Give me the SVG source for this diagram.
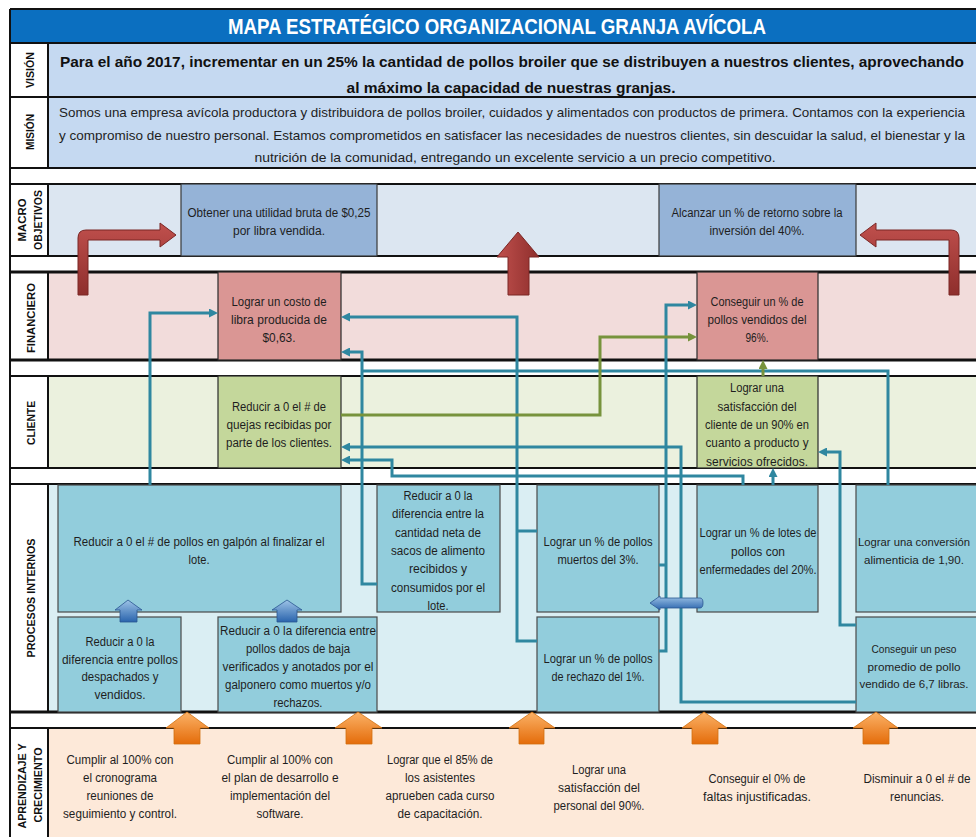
<svg xmlns="http://www.w3.org/2000/svg" width="976" height="837" viewBox="0 0 976 837">
<style>
.t{font-family:"Liberation Sans",Arial,sans-serif;font-size:12.5px;fill:#1e1e1e;text-anchor:middle}
.s{font-size:11px}
.lab{font-family:"Liberation Sans",Arial,sans-serif;font-size:11px;font-weight:bold;fill:#111;text-anchor:middle}
.vis{font-family:"Liberation Sans Narrow","Liberation Sans",Arial,sans-serif;font-size:15.5px;font-weight:bold;fill:#111;text-anchor:middle}
.mis{font-family:"Liberation Sans Narrow","Liberation Sans",Arial,sans-serif;font-size:13.5px;fill:#1e1e1e;text-anchor:middle}
.ttl{font-family:"Liberation Sans Narrow","Liberation Sans",Arial,sans-serif;font-size:22px;font-weight:bold;fill:#fff;text-anchor:middle}
.bl{stroke:#111;stroke-width:2}
.mac{fill:#95B3D7;stroke:#3a3a3a;stroke-width:1.2}
.fin{fill:#DA9694;stroke:#2a2a2a;stroke-width:1.2}
.cli{fill:#C4D79B;stroke:#2a2a2a;stroke-width:1.2}
.pro{fill:#92CDDC;stroke:#4a4a4a;stroke-width:1.2}
.c{fill:none;stroke:#2F87A0;stroke-width:3}
.g{fill:none;stroke:#77933C;stroke-width:3}
</style>
<defs>
<marker id="at" viewBox="0 0 9 9" refX="3" refY="4.5" markerWidth="9" markerHeight="9" markerUnits="userSpaceOnUse" orient="auto"><path d="M0,0 L9,4.5 L0,9 Z" fill="#2F87A0"/></marker>
<marker id="ag" viewBox="0 0 9 9" refX="3" refY="4.5" markerWidth="9" markerHeight="9" markerUnits="userSpaceOnUse" orient="auto"><path d="M0,0 L9,4.5 L0,9 Z" fill="#77933C"/></marker>
<linearGradient id="red" x1="0" y1="0" x2="0" y2="1"><stop offset="0" stop-color="#C0504D"/><stop offset="1" stop-color="#8E2E2C"/></linearGradient>
<linearGradient id="redh" x1="0" y1="0" x2="1" y2="0"><stop offset="0" stop-color="#C0504D"/><stop offset="1" stop-color="#8E2E2C"/></linearGradient>
<linearGradient id="org" x1="0" y1="0" x2="0" y2="1"><stop offset="0" stop-color="#FBB267"/><stop offset="1" stop-color="#E46C0A"/></linearGradient>
<linearGradient id="blu" x1="0" y1="0" x2="0" y2="1"><stop offset="0" stop-color="#9DC3E6"/><stop offset="1" stop-color="#2A64AD"/></linearGradient>
</defs>

<!-- backgrounds -->
<rect x="10" y="9" width="966" height="828" fill="#fff"/>
<rect x="10" y="9" width="966" height="34" fill="#0B6FC0"/>
<rect x="48" y="43" width="928" height="125" fill="#C5D9F1"/>
<rect x="48" y="184" width="928" height="72" fill="#DCE6F1"/>
<rect x="48" y="272" width="928" height="88" fill="#F2DCDB"/>
<rect x="48" y="376" width="928" height="92" fill="#EBF1DE"/>
<rect x="48" y="484" width="928" height="228" fill="#DAEEF3"/>
<rect x="48" y="728" width="928" height="109" fill="#FDE9D9"/>

<!-- grid lines -->
<g class="bl">
<line x1="10" y1="9" x2="976" y2="9"/>
<line x1="10" y1="43" x2="976" y2="43"/>
<line x1="10" y1="97" x2="976" y2="97"/>
<line x1="10" y1="168" x2="976" y2="168"/>
<line x1="10" y1="184" x2="976" y2="184"/>
<line x1="10" y1="256" x2="976" y2="256"/>
<line x1="10" y1="272" x2="976" y2="272" stroke-width="3"/>
<line x1="10" y1="360" x2="976" y2="360" stroke-width="3"/>
<line x1="10" y1="376" x2="976" y2="376"/>
<line x1="10" y1="468" x2="976" y2="468"/>
<line x1="10" y1="484" x2="976" y2="484"/>
<line x1="10" y1="712" x2="976" y2="712" stroke-width="3"/>
<line x1="10" y1="728" x2="976" y2="728"/>
<line x1="10" y1="9" x2="10" y2="837"/>
<line x1="48" y1="43" x2="48" y2="168"/>
<line x1="48" y1="184" x2="48" y2="256"/>
<line x1="48" y1="272" x2="48" y2="360"/>
<line x1="48" y1="376" x2="48" y2="468"/>
<line x1="48" y1="484" x2="48" y2="712"/>
<line x1="48" y1="728" x2="48" y2="837"/>
</g>

<!-- title / vision / mision -->
<text class="ttl" x="497" y="34" textLength="538" lengthAdjust="spacingAndGlyphs">MAPA ESTRATÉGICO ORGANIZACIONAL GRANJA AVÍCOLA</text>
<text class="vis" x="512" y="67" textLength="904" lengthAdjust="spacingAndGlyphs">Para el año 2017, incrementar en un 25% la cantidad de pollos broiler que se distribuyen a nuestros clientes, aprovechando</text>
<text class="vis" x="511" y="93" textLength="329" lengthAdjust="spacingAndGlyphs">al máximo la capacidad de nuestras granjas.</text>
<text class="mis" x="512" y="117" textLength="906" lengthAdjust="spacingAndGlyphs">Somos una empresa avícola productora y distribuidora de pollos broiler, cuidados y alimentados con productos de primera. Contamos con la experiencia</text>
<text class="mis" x="512" y="140" textLength="906" lengthAdjust="spacingAndGlyphs">y compromiso de nuestro personal. Estamos comprometidos en satisfacer las necesidades de nuestros clientes, sin descuidar la salud, el bienestar y la</text>
<text class="mis" x="515" y="162" textLength="521" lengthAdjust="spacingAndGlyphs">nutrición de la comunidad, entregando un excelente servicio a un precio competitivo.</text>

<!-- row labels -->
<g id="labels">
<text class="lab" transform="translate(34,70) rotate(-90)" textLength="36" lengthAdjust="spacingAndGlyphs">VISIÓN</text>
<text class="lab" transform="translate(34,132) rotate(-90)" textLength="36" lengthAdjust="spacingAndGlyphs">MISIÓN</text>
<text class="lab" transform="translate(26,220) rotate(-90)" textLength="43" lengthAdjust="spacingAndGlyphs">MACRO</text>
<text class="lab" transform="translate(42,220) rotate(-90)" textLength="60" lengthAdjust="spacingAndGlyphs">OBJETIVOS</text>
<text class="lab" transform="translate(35,318) rotate(-90)" textLength="70" lengthAdjust="spacingAndGlyphs">FINANCIERO</text>
<text class="lab" transform="translate(35,423) rotate(-90)" textLength="44" lengthAdjust="spacingAndGlyphs">CLIENTE</text>
<text class="lab" transform="translate(35,598) rotate(-90)" textLength="119" lengthAdjust="spacingAndGlyphs">PROCESOS INTERNOS</text>
<text class="lab" transform="translate(26,786) rotate(-90)" textLength="85" lengthAdjust="spacingAndGlyphs">APRENDIZAJE Y</text>
<text class="lab" transform="translate(42,785) rotate(-90)" textLength="75" lengthAdjust="spacingAndGlyphs">CRECIMIENTO</text>
</g>

<!-- macro objetivos -->
<g id="m1"><rect class="mac" x="181" y="184" width="196" height="72"/>
<text class="t" x="279" y="217" textLength="183" lengthAdjust="spacingAndGlyphs">Obtener una utilidad bruta de $0,25</text>
<text class="t" x="279" y="235" textLength="92" lengthAdjust="spacingAndGlyphs">por libra vendida.</text></g>
<g id="m2"><rect class="mac" x="659" y="184" width="197" height="72"/>
<text class="t" x="757" y="217" textLength="171" lengthAdjust="spacingAndGlyphs">Alcanzar un % de retorno sobre la</text>
<text class="t" x="757" y="235" textLength="95" lengthAdjust="spacingAndGlyphs">inversión del 40%.</text></g>

<!-- financiero -->
<g id="f1"><rect class="fin" x="218" y="272" width="123" height="88"/>
<text class="t" x="279" y="306" textLength="95" lengthAdjust="spacingAndGlyphs">Lograr un costo de</text>
<text class="t" x="279" y="324" textLength="96" lengthAdjust="spacingAndGlyphs">libra producida de</text>
<text class="t" x="279" y="342" textLength="33" lengthAdjust="spacingAndGlyphs">$0,63.</text></g>
<g id="f2"><rect class="fin" x="697" y="272" width="121" height="88"/>
<text class="t" x="757" y="306" textLength="93" lengthAdjust="spacingAndGlyphs">Conseguir un % de</text>
<text class="t" x="757" y="324" textLength="99" lengthAdjust="spacingAndGlyphs">pollos vendidos del</text>
<text class="t" x="757" y="342" textLength="23" lengthAdjust="spacingAndGlyphs">96%.</text></g>

<!-- cliente -->
<g id="c1"><rect class="cli" x="218" y="376" width="123" height="92"/>
<text class="t" x="279" y="411" textLength="94" lengthAdjust="spacingAndGlyphs">Reducir a 0 el # de</text>
<text class="t" x="279" y="429" textLength="105" lengthAdjust="spacingAndGlyphs">quejas recibidas por</text>
<text class="t" x="279" y="447" textLength="106" lengthAdjust="spacingAndGlyphs">parte de los clientes.</text></g>
<g id="c2"><rect class="cli" x="697" y="376" width="121" height="92"/>
<text class="t" x="757" y="392" textLength="54" lengthAdjust="spacingAndGlyphs">Lograr una</text>
<text class="t" x="757" y="411" textLength="79" lengthAdjust="spacingAndGlyphs">satisfacción del</text>
<text class="t" x="757" y="429" textLength="104" lengthAdjust="spacingAndGlyphs">cliente de un 90% en</text>
<text class="t" x="757" y="447" textLength="103" lengthAdjust="spacingAndGlyphs">cuanto a producto y</text>
<text class="t" x="757" y="466" textLength="102" lengthAdjust="spacingAndGlyphs">servicios ofrecidos.</text></g>

<!-- procesos internos -->
<g id="p1"><rect class="pro" x="58" y="485" width="283" height="127"/>
<text class="t" x="199" y="546" textLength="251" lengthAdjust="spacingAndGlyphs">Reducir a 0 el # de pollos en galpón al finalizar el</text>
<text class="t" x="199" y="564" textLength="21" lengthAdjust="spacingAndGlyphs">lote.</text></g>
<g id="p2"><rect class="pro" x="377" y="485" width="123" height="127"/>
<text class="t" x="438" y="500" textLength="69" lengthAdjust="spacingAndGlyphs">Reducir a 0 la</text>
<text class="t" x="438" y="518" textLength="92" lengthAdjust="spacingAndGlyphs">diferencia entre la</text>
<text class="t" x="438" y="537" textLength="86" lengthAdjust="spacingAndGlyphs">cantidad neta de</text>
<text class="t" x="438" y="555" textLength="94" lengthAdjust="spacingAndGlyphs">sacos de alimento</text>
<text class="t" x="438" y="573" textLength="58" lengthAdjust="spacingAndGlyphs">recibidos y</text>
<text class="t" x="438" y="592" textLength="94" lengthAdjust="spacingAndGlyphs">consumidos por el</text>
<text class="t" x="438" y="610" textLength="21" lengthAdjust="spacingAndGlyphs">lote.</text></g>
<g id="p3"><rect class="pro" x="58" y="617" width="123" height="95"/>
<text class="t" x="120" y="646" textLength="69" lengthAdjust="spacingAndGlyphs">Reducir a 0 la</text>
<text class="t" x="120" y="664" textLength="116" lengthAdjust="spacingAndGlyphs">diferencia entre pollos</text>
<text class="t" x="120" y="681" textLength="77" lengthAdjust="spacingAndGlyphs">despachados y</text>
<text class="t" x="120" y="699" textLength="51" lengthAdjust="spacingAndGlyphs">vendidos.</text></g>
<g id="p4"><rect class="pro" x="218" y="617" width="159" height="95"/>
<text class="t" x="298" y="635" textLength="156" lengthAdjust="spacingAndGlyphs">Reducir a 0 la diferencia entre</text>
<text class="t" x="298" y="653" textLength="104" lengthAdjust="spacingAndGlyphs">pollos dados de baja</text>
<text class="t" x="298" y="671" textLength="151" lengthAdjust="spacingAndGlyphs">verificados y anotados por el</text>
<text class="t" x="298" y="689" textLength="146" lengthAdjust="spacingAndGlyphs">galponero como muertos y/o</text>
<text class="t" x="298" y="707" textLength="49" lengthAdjust="spacingAndGlyphs">rechazos.</text></g>
<g id="p5"><rect class="pro" x="537" y="485" width="122" height="127"/>
<text class="t" x="598" y="546" textLength="109" lengthAdjust="spacingAndGlyphs">Lograr un % de pollos</text>
<text class="t" x="598" y="564" textLength="81" lengthAdjust="spacingAndGlyphs">muertos del 3%.</text></g>
<g id="p6"><rect class="pro" x="537" y="617" width="122" height="95"/>
<text class="t" x="598" y="663" textLength="109" lengthAdjust="spacingAndGlyphs">Lograr un % de pollos</text>
<text class="t" x="598" y="681" textLength="93" lengthAdjust="spacingAndGlyphs">de rechazo del 1%.</text></g>
<g id="p7"><rect class="pro" x="697" y="485" width="121" height="127"/>
<text class="t" x="758" y="537" textLength="117" lengthAdjust="spacingAndGlyphs">Lograr un % de lotes de</text>
<text class="t" x="758" y="556" textLength="54" lengthAdjust="spacingAndGlyphs">pollos con</text>
<text class="t" x="758" y="574" textLength="117" lengthAdjust="spacingAndGlyphs">enfermedades del 20%.</text></g>
<g id="p8"><rect class="pro" x="856" y="485" width="125" height="127"/>
<text class="t s" x="914" y="546" textLength="112" lengthAdjust="spacingAndGlyphs">Lograr una conversión</text>
<text class="t s" x="914" y="564" textLength="100" lengthAdjust="spacingAndGlyphs">alimenticia de 1,90.</text></g>
<g id="p9"><rect class="pro" x="856" y="617" width="125" height="95"/>
<text class="t s" x="914" y="653" textLength="85" lengthAdjust="spacingAndGlyphs">Conseguir un peso</text>
<text class="t s" x="914" y="671" textLength="93" lengthAdjust="spacingAndGlyphs">promedio de pollo</text>
<text class="t s" x="914" y="688" textLength="109" lengthAdjust="spacingAndGlyphs">vendido de 6,7 libras.</text></g>

<!-- aprendizaje y crecimiento -->
<g id="a1">
<text class="t" x="120" y="764" textLength="107" lengthAdjust="spacingAndGlyphs">Cumplir al 100% con</text>
<text class="t" x="120" y="782" textLength="74" lengthAdjust="spacingAndGlyphs">el cronograma</text>
<text class="t" x="120" y="800" textLength="67" lengthAdjust="spacingAndGlyphs">reuniones de</text>
<text class="t" x="120" y="818" textLength="114" lengthAdjust="spacingAndGlyphs">seguimiento y control.</text></g>
<g id="a2">
<text class="t" x="280" y="764" textLength="106" lengthAdjust="spacingAndGlyphs">Cumplir al 100% con</text>
<text class="t" x="280" y="782" textLength="117" lengthAdjust="spacingAndGlyphs">el plan de desarrollo e</text>
<text class="t" x="280" y="800" textLength="100" lengthAdjust="spacingAndGlyphs">implementación del</text>
<text class="t" x="280" y="818" textLength="47" lengthAdjust="spacingAndGlyphs">software.</text></g>
<g id="a3">
<text class="t" x="440" y="764" textLength="106" lengthAdjust="spacingAndGlyphs">Lograr que el 85% de</text>
<text class="t" x="440" y="782" textLength="70" lengthAdjust="spacingAndGlyphs">los asistentes</text>
<text class="t" x="440" y="800" textLength="109" lengthAdjust="spacingAndGlyphs">aprueben cada curso</text>
<text class="t" x="440" y="818" textLength="85" lengthAdjust="spacingAndGlyphs">de capacitación.</text></g>
<g id="a4">
<text class="t" x="599" y="774" textLength="54" lengthAdjust="spacingAndGlyphs">Lograr una</text>
<text class="t" x="599" y="792" textLength="82" lengthAdjust="spacingAndGlyphs">satisfacción del</text>
<text class="t" x="599" y="810" textLength="91" lengthAdjust="spacingAndGlyphs">personal del 90%.</text></g>
<g id="a5">
<text class="t" x="757" y="783" textLength="97" lengthAdjust="spacingAndGlyphs">Conseguir el 0% de</text>
<text class="t" x="757" y="801" textLength="108" lengthAdjust="spacingAndGlyphs">faltas injustificadas.</text></g>
<g id="a6">
<text class="t" x="917" y="783" textLength="107" lengthAdjust="spacingAndGlyphs">Disminuir a 0 el # de</text>
<text class="t" x="917" y="801" textLength="54" lengthAdjust="spacingAndGlyphs">renuncias.</text></g>

<!-- connectors -->
<g id="connectors">
<path class="c" d="M150,485 V313 H212" marker-end="url(#at)"/>
<path class="c" d="M377,584 H362 V352 H347" marker-end="url(#at)"/>
<path class="c" d="M888,485 V371 H362"/>
<path class="c" d="M537,641 H517 V317 H347" marker-end="url(#at)"/>
<path class="c" d="M537,531 H517"/>
<path class="c" d="M659,651 H666 V305 H691" marker-end="url(#at)"/>
<path class="c" d="M659,565 H666"/>
<path class="c" d="M856,702 H681 V447 H347" marker-end="url(#at)"/>
<path class="c" d="M743,485 V476 H392 V460 H347" marker-end="url(#at)"/>
<path class="c" d="M856,625 H840 V452 H824" marker-end="url(#at)"/>
<path class="c" d="M773,485 V474" marker-end="url(#at)"/>
<path class="g" d="M341,415 H600 V337 H691" marker-end="url(#ag)"/>
<path class="g" d="M763,376 V366" marker-end="url(#ag)"/>
</g>

<!-- block arrows -->
<g id="block-arrows">
<path d="M78,295 V238 Q78,230 86,230 H160 V223 L176,235 L160,247 V240 H88 V295 Z" fill="url(#red)" stroke="#7A2624" stroke-width="1"/>
<path d="M959,295 V238 Q959,230 951,230 H876 V223 L860,235 L876,247 V240 H949 V295 Z" fill="url(#red)" stroke="#7A2624" stroke-width="1"/>
<path d="M508,295 V257 H497 L518,232 L539,257 H529 V295 Z" fill="url(#redh)" stroke="#7A2624" stroke-width="1"/>
<path d="M128,600 L142,610 H137 V622 H120 V610 H115 Z" fill="url(#blu)" stroke="#2A5590" stroke-width="0.8"/>
<path d="M287,600 L302,610 H297 V622 H277 V610 H272 Z" fill="url(#blu)" stroke="#2A5590" stroke-width="0.8"/>
<path d="M650,603 L660,596 V598 H700 Q703,598 703,603 Q703,608 700,608 H660 V610 Z" fill="url(#blu)" stroke="#2A5590" stroke-width="0.8"/>
<path d="M187,712 L209,728 H200 V744 H174 V728 H166 Z" fill="url(#org)" stroke="#D0700F" stroke-width="0.8"/>
<path d="M358,712 L382,728 H372 V744 H346 V728 H335 Z" fill="url(#org)" stroke="#D0700F" stroke-width="0.8"/>
<path d="M532,712 L555,728 H544 V744 H519 V728 H509 Z" fill="url(#org)" stroke="#D0700F" stroke-width="0.8"/>
<path d="M704,712 L727,728 H718 V744 H692 V728 H682 Z" fill="url(#org)" stroke="#D0700F" stroke-width="0.8"/>
<path d="M876,712 L898,728 H889 V744 H863 V728 H853 Z" fill="url(#org)" stroke="#D0700F" stroke-width="0.8"/>
</g>
</svg>
